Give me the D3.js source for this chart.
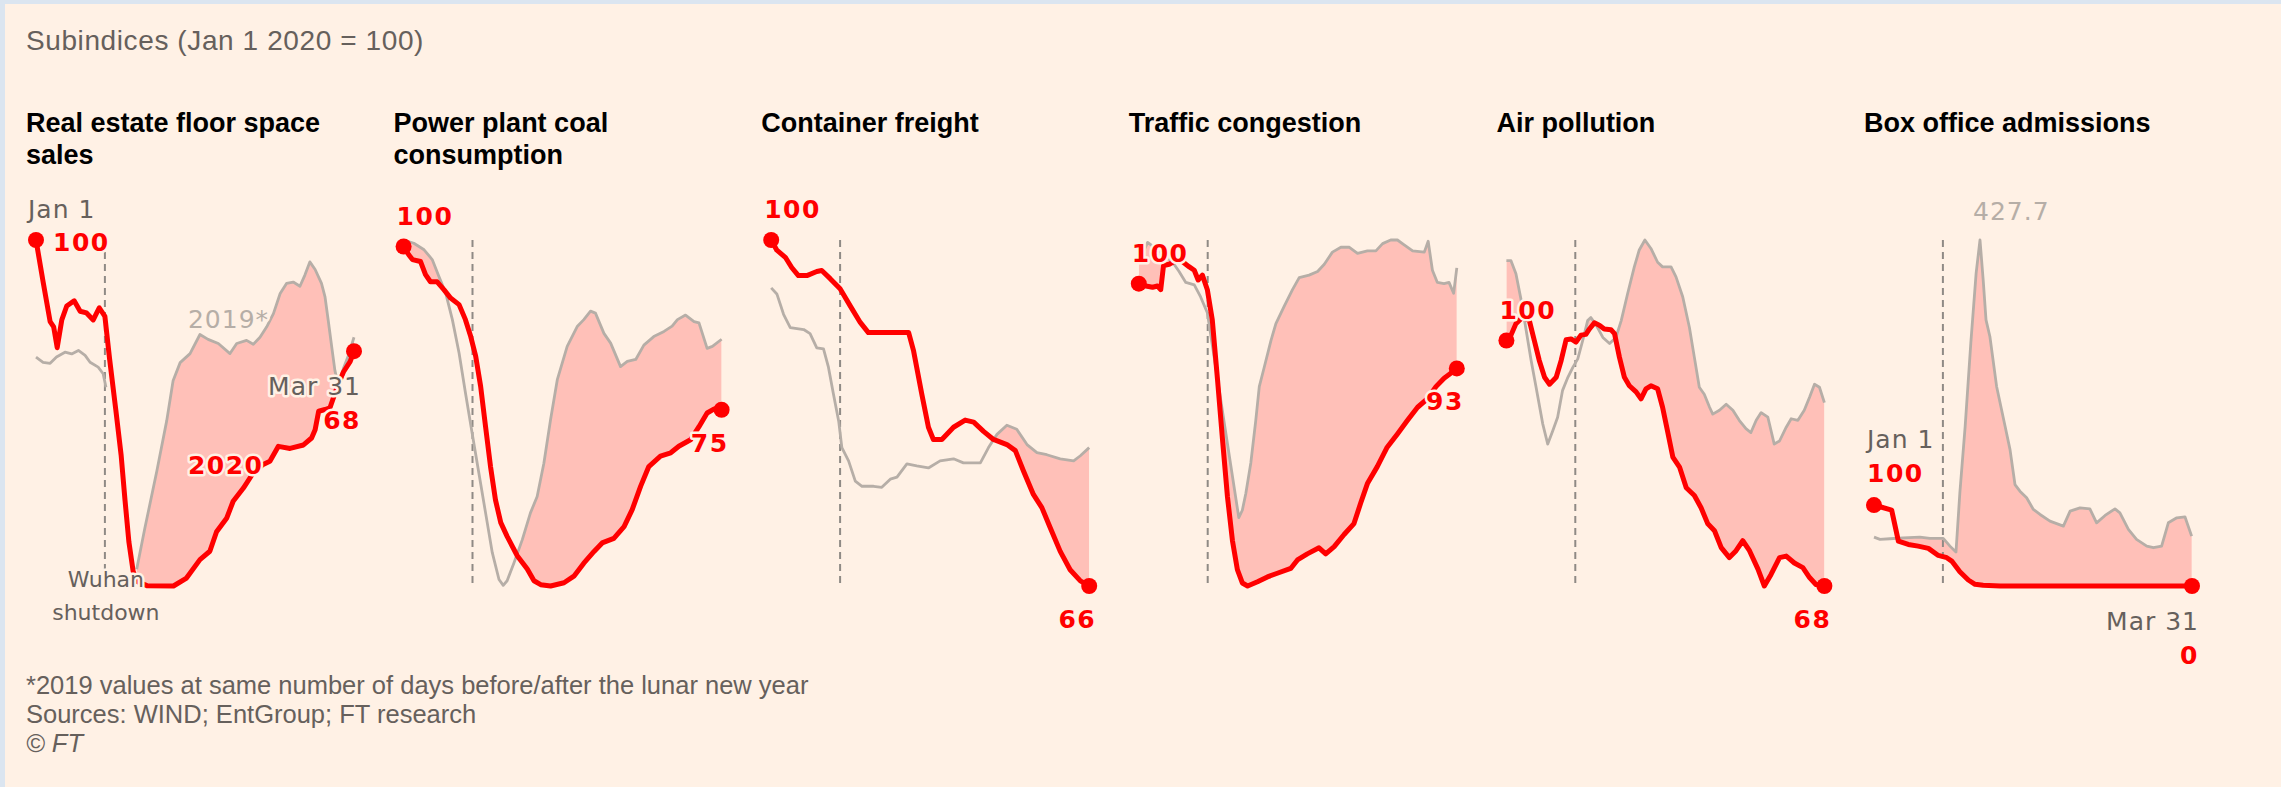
<!DOCTYPE html>
<html>
<head>
<meta charset="utf-8">
<script src="https://cdn.jsdelivr.net/npm/d3@7"></script>
<style>
  body { margin: 0; background: #fff1e5; }
  svg { display: block; }
  .head { font-family: "Liberation Sans", Arial, sans-serif; font-weight: bold; font-size: 27px; fill: #000; }
  .lbl { font-family: "DejaVu Sans", sans-serif; font-size: 25px; letter-spacing: 1px;
         paint-order: stroke; stroke: #fff1e5; stroke-width: 5px; stroke-linejoin: round; }
  .note { font-family: "Liberation Sans", Arial, sans-serif; font-size: 25.5px; fill: #66605c; }
</style>
</head>
<body>
<script>
// panel headings (one entry per line)
var panelTitles = [
    ["Real estate floor space", "sales"],
    ["Power plant coal", "consumption"],
    ["Container freight"],
    ["Traffic congestion"],
    ["Air pollution"],
    ["Box office admissions"]
];

// [day since Jan 1, index value]  -- 2020 series
var realEstate2020 = [[0,100],[2,88],[4,76.5],[5,75],[6,69],[7.3,77],[8.7,81],[10.8,82.5],[12.5,79.5],[14.3,79],[16.2,77],[17.9,80.5],[19.5,78],[20.8,66],[22.6,51],[24.1,38],[25.2,25],[26.3,13],[27.5,4.6],[28.6,1.7],[31.4,0.5],[38.9,0.4],[42.6,2.7],[46.4,8],[49.2,10.4],[51.1,16],[54,20],[55.8,24.8],[58.7,28.6],[61.5,33],[64.3,35.4],[66.2,36.3],[68.6,40.6],[71.9,40],[75.7,41],[78,43],[79,45.4],[80,50.7],[81.8,51.2],[83.2,51.7],[85,57],[87,62],[88.9,65],[90,68]];
var coal2020 = [[0,100],[1.5,98.7],[2.5,98],[4.8,97.7],[6.2,95.7],[7.6,94.6],[9.5,94.6],[11.4,93.4],[13.3,92.1],[15.7,91.1],[17.5,88.8],[19,86.2],[20.4,83.2],[21.8,78.6],[23.2,72.4],[24.6,66.3],[26,61.2],[27.5,57.7],[29.3,55.6],[32.2,52.6],[35,50.6],[36.9,48.8],[38.8,48.2],[41.6,48],[45.4,48.5],[48.2,49.5],[51,51.5],[53.9,53.3],[56.2,54.6],[59.5,55.3],[62.4,57.1],[64.7,59.7],[67.1,63.3],[69.4,66.3],[72.7,67.9],[75.6,68.4],[77.9,69.4],[81.2,70.4],[83.6,72.4],[85.9,74.5],[87.8,75.1],[90,75]];
var container2020 = [[0,100],[1.6,99],[4,98.3],[5.8,97.3],[7.7,96.5],[10.1,96.5],[12.9,96.9],[14.3,97],[16.7,96.2],[19.5,95.2],[22.4,93.5],[25.2,91.9],[27.5,90.9],[33.7,90.9],[38.9,90.9],[40.3,89.1],[42.6,84.9],[44.5,81.6],[45.9,80.4],[48.3,80.4],[51.6,81.6],[54.9,82.3],[57.3,82.1],[60.1,81.2],[62.9,80.4],[66.7,79.9],[69.1,79.3],[71.4,77.3],[74.2,75],[76.6,73.7],[79,71.7],[81.8,69.4],[84.6,67.6],[87.5,66.5],[90,66]];
var traffic2020 = [[0,100],[2,99.8],[3.9,99.7],[5.3,99.8],[6.2,99.5],[7,101.5],[8.6,101.6],[10.5,101.9],[12.4,101.8],[14.2,101.4],[15.7,101.1],[16.8,100.3],[18,100.7],[19.4,99.5],[20.8,97],[22.3,92],[23.7,87.1],[25.1,82.4],[26.5,78.8],[27.9,76.4],[29.3,75.3],[30.8,75.05],[33.6,75.4],[36.4,75.8],[39.2,76.1],[43,76.5],[44.9,77.2],[47.7,77.7],[51,78.2],[52.9,77.7],[55.3,78.3],[58.1,79.3],[60.9,80.2],[62.8,81.9],[64.7,83.5],[67.5,84.9],[70.3,86.5],[73.2,87.6],[76,88.7],[78.9,89.8],[81.7,90.5],[84.1,91.5],[86.4,92.2],[88.3,92.6],[90,93]];
var air2020 = [[0,100],[1.3,100.7],[2.7,102.2],[4.5,103],[6.5,102.6],[7.9,100],[9.3,97.4],[10.8,95.2],[12.2,94.3],[14.1,95.2],[15.5,97.4],[16.9,100.1],[18.3,100.2],[19.7,99.8],[21.1,100.7],[22.5,100.8],[23.5,101.5],[24.9,102.3],[26.3,102],[27.7,101.5],[29.6,101.4],[30.6,100.9],[32,97.8],[33.4,95.2],[34.8,94.1],[36.7,93.3],[38.1,92.4],[39.5,93.7],[40.9,94.1],[42.8,93.7],[44.2,91.3],[45.6,88.2],[47.1,84.8],[49,83.5],[50.9,80.8],[53.2,79.8],[55.1,78.2],[57,76.1],[58.9,75.2],[60.8,73],[63.1,71.7],[65,72.6],[66.9,73.9],[68.8,72.6],[71.2,70.2],[73,68],[74.9,69.5],[77.3,71.7],[79.2,71.9],[81.5,71],[83.9,70.4],[85.8,69.1],[87.6,68.2],[90,68]];
var boxOffice2020 = [[0,100],[1.7,98],[5,93.8],[6.9,55.5],[9.7,51.4],[12.5,49.3],[15.4,46.5],[18.2,37.8],[20.6,35],[22,30.8],[24.3,17.7],[26.7,7.4],[28.6,2.1],[30.9,0.8],[35.7,0],[90,0]];

// 2019 series, same number of days from lunar new year (null = no data)
var realEstate2019 = [[0,66.3],[2,64.8],[4,64.5],[5.8,66.3],[8.2,67.7],[10.1,67.2],[12,68.2],[13.9,66.8],[15.3,64.8],[17.6,63.4],[19,61.5],[19.8,57.6],[24,null],[28.5,5.2],[30.8,17],[34.2,33.5],[37,48],[38.8,59.5],[40.8,64.7],[43.6,67.3],[46.4,72.8],[48.7,71.4],[51.6,70.2],[54.9,67.3],[56.8,70.2],[59.6,71.1],[61.5,70],[63.4,72],[65.3,75],[67.2,78.8],[69.1,84.6],[70.9,87.5],[72.8,87.9],[74.7,86.7],[76.1,89.9],[77.5,93.7],[79,91.5],[80.8,87.5],[81.8,83.6],[82.7,76.9],[83.7,69.2],[84.6,62.4],[85.6,58],[87,63],[88.5,67],[90,72]];
var coal2019 = [[0,101],[2.9,100.5],[5.8,99.5],[8.1,98],[10,95.4],[11.9,92.9],[13.8,88.8],[15.7,83.7],[17.5,77.6],[19.4,71.4],[21.3,65.3],[23.2,59.2],[25.1,53.1],[27,49],[28.2,48.1],[29.3,48.8],[31.2,51.5],[33.6,55.1],[35.9,59.2],[37.8,61.7],[39.7,66.8],[41.6,73.5],[43.5,79.6],[46.3,84.7],[49.2,87.8],[51,88.8],[52.9,90.1],[54.3,89.8],[56.7,86.7],[58.6,85.2],[61.4,81.6],[63.3,82.4],[65.7,82.7],[68,84.9],[70.8,86.2],[73.7,87],[76,87.8],[77.5,88.8],[79.8,89.5],[82.2,88.5],[83.6,88.3],[85.9,84.4],[87.4,84.7],[90,85.8]];
var container2019 = [[0,95.3],[1.6,94.7],[3.5,92.7],[5.4,91.4],[9.2,91.2],[11,90.8],[12.9,89.4],[14.8,89.3],[16.2,87.5],[17.6,84.9],[19.1,82.2],[20,79.6],[21.9,78.3],[23.8,76.3],[25.7,75.8],[29,75.8],[31.3,75.7],[33.7,76.5],[35.6,76.7],[38.4,78],[41.2,77.8],[44.5,77.6],[47.8,78.3],[51.6,78.5],[54.4,78.1],[59.2,78.1],[61.5,79.6],[63.9,80.9],[66.7,81.8],[69.5,81.4],[72.4,79.9],[75.2,79.1],[78,78.9],[81.8,78.5],[85.6,78.3],[87.5,78.8],[90,79.6]];
var traffic2019 = [[0,101.8],[2.5,103.4],[6.2,102.6],[9.5,101.8],[11.4,101],[13.3,100.1],[15.7,99.9],[17.5,98.9],[19.4,97.6],[28.3,80.7],[29.3,81.3],[30.3,82.7],[31.7,85.2],[33.1,88.7],[34.1,91.5],[35.5,93.1],[37.4,95.3],[38.8,96.7],[41.1,98.1],[43.5,99.5],[45.4,100.5],[48.2,100.7],[50.6,101],[52.5,101.6],[54.8,102.6],[57.2,103],[59.6,103],[61.9,102.5],[64.7,102.7],[67.1,102.7],[69,103.3],[71.3,103.6],[73.2,103.6],[75.1,103.2],[77.5,102.7],[80.8,102.6],[81.9,103.5],[83.1,101.1],[84.5,100.1],[86.4,100],[87.8,100.1],[89.1,99.2],[90,101.3]];
var air2019 = [[0,110.4],[1.3,110.4],[2.7,108.7],[4.2,105.2],[5.6,101.3],[7,97.4],[8.4,93.9],[10.3,89.1],[11.7,86.5],[13.1,88.2],[14.5,90],[15.9,93.5],[17.4,95.2],[18.8,96.5],[20.2,97.6],[21.6,100],[23,102.6],[23.9,103],[25.4,102],[27.3,100.4],[29.2,99.6],[31,100.4],[32.5,102.6],[34.3,106.1],[36.2,109.6],[37.6,111.8],[39.2,113.1],[40.9,112],[42.8,110.2],[44.2,109.6],[46.6,109.6],[48,108.3],[49.9,105.7],[51.8,101.7],[53.2,97.8],[54.6,93.9],[56,93],[57.5,91.3],[58.4,90.4],[60.3,90.9],[62.2,91.7],[64.1,90.9],[65.9,89.6],[67.8,88.5],[69.2,88],[70.7,89.6],[72.1,90.6],[74,90],[75.8,86.5],[77.3,86.9],[79.2,88.7],[80.6,89.8],[82.5,89.6],[84.3,90.9],[85.8,92.6],[87.2,94.3],[88.6,93.9],[90,91.9]];
var boxOffice2019 = [[0,60.4],[1.7,57.6],[4.5,58.4],[8.3,59.6],[13,60.4],[15.8,58.8],[19.6,58.8],[21.5,49.3],[23.2,41.9],[24.3,115.1],[25.8,197.4],[27.4,300.2],[28.9,386.5],[30,427.7],[30.9,378.3],[31.7,329],[32.8,308.4],[34.7,246.7],[37.1,197.4],[38.5,168.6],[39.9,125.4],[41.3,117.2],[43.2,109],[45.1,94.6],[47,88.4],[49.8,80.2],[53.6,74],[55.5,92.5],[58.3,96.6],[61.1,95.4],[63,78.1],[65.4,87.2],[68.2,95.4],[69.6,90.5],[72,69.9],[74.3,57.6],[77.2,49.3],[79.1,47.3],[81.4,49.3],[83.3,78.1],[85.7,84.3],[88,85.5],[89.9,61.7]];

var series2020 = [realEstate2020, coal2020, container2020, traffic2020, air2020, boxOffice2020];
var series2019 = [realEstate2019, coal2019, container2019, traffic2019, air2019, boxOffice2019];

var lastDay = 90;          // Mar 31
var shutdownDay = 19.5;    // Wuhan shutdown marker
var footnotes = [
    "*2019 values at same number of days before/after the lunar new year",
    "Sources: WIND; EntGroup; FT research",
    "\u00a9 FT"
];

var width = 2281, height = 787;
var plot = { left: 36, step: 367.6, w: 318, top: 240, bottom: 586 };
var red = "#ff0000", grey = "#b6aea7", dark = "#66605c";

var svg = d3.select("body").append("svg")
    .attr("width", width)
    .attr("height", height);

svg.append("rect").attr("width", width).attr("height", height).attr("fill", "#fff1e5");
// browser frame strips
svg.append("rect").attr("width", width).attr("height", 4).attr("fill", "#dbe5f0");
svg.append("rect").attr("width", 5).attr("height", height).attr("fill", "#dbe5f0");

svg.append("text")
    .attr("x", 26).attr("y", 50)
    .style("font-family", "'Liberation Sans', Arial, sans-serif")
    .style("font-size", "28px")
    .style("letter-spacing", "0.6px")
    .style("fill", dark)
    .text("Subindices (Jan 1 2020 = 100)");

var defs = svg.append("defs");

panelTitles.forEach(function (title, i) {
    var x0 = plot.left + i * plot.step;
    var cur = series2020[i], prev = series2019[i];
    var vals = cur.concat(prev).map(d => d[1]).filter(v => v != null);

    var x = d3.scaleLinear().domain([0, lastDay]).range([x0, x0 + plot.w]);
    var y = d3.scaleLinear().domain(d3.extent(vals)).range([plot.bottom, plot.top]);
    var g = svg.append("g");

    title.forEach(function (t, j) {
        g.append("text").attr("class", "head")
            .attr("x", x0 - 10).attr("y", 132 + j * 32)
            .text(t);
    });

    // shortfall fill: below the 2019 line, above the 2020 line
    defs.append("clipPath").attr("id", "above" + i)
        .append("path")
        .attr("d", d3.area().x(d => x(d[0])).y0(0).y1(d => y(d[1]))(cur));

    g.append("path")
        .attr("clip-path", "url(#above" + i + ")")
        .attr("fill", "#ffc0b8")
        .attr("d", d3.area()
            .defined(d => d[1] != null)
            .x(d => x(d[0])).y0(plot.bottom + 20).y1(d => y(d[1]))(prev));

    g.append("line")
        .attr("x1", x(shutdownDay)).attr("x2", x(shutdownDay))
        .attr("y1", plot.top).attr("y2", plot.bottom + 1)
        .attr("stroke", "#8f8a85")
        .attr("stroke-width", 2)
        .attr("stroke-dasharray", "7,5");

    g.append("path")
        .attr("fill", "none")
        .attr("stroke", grey)
        .attr("stroke-width", 2.8)
        .attr("stroke-linejoin", "round")
        .attr("d", d3.line().defined(d => d[1] != null).x(d => x(d[0])).y(d => y(d[1]))(prev));

    g.append("path")
        .attr("fill", "none")
        .attr("stroke", red)
        .attr("stroke-width", 5)
        .attr("stroke-linejoin", "round")
        .attr("stroke-linecap", "round")
        .attr("d", d3.line().x(d => x(d[0])).y(d => y(d[1]))(cur));

    var first = cur[0], last = cur[cur.length - 1];
    g.selectAll(".dot")
        .data([first, last])
        .enter()
        .append("circle")
        .attr("class", "dot")
        .attr("r", 8)
        .attr("cx", d => x(d[0]))
        .attr("cy", d => y(d[1]))
        .attr("fill", red);

    var fx = x(first[0]), fy = y(first[1]);
    var lx = x(last[0]), ly = y(last[1]);

    function label(px, py, txt, color, bold, anchor) {
        return g.append("text").attr("class", "lbl")
            .attr("x", px).attr("y", py)
            .attr("text-anchor", anchor || "start")
            .style("fill", color)
            .style("font-weight", bold ? "bold" : "normal")
            .style("letter-spacing", bold ? "1.5px" : "1px")
            .text(txt);
    }

    // start labels
    if (i === 0) {
        label(fx - 8, fy - 22, "Jan 1", dark, false);
        label(fx + 17, fy + 11, d3.format("d")(first[1]), red, true);
    } else if (i === 5) {
        label(fx - 7, fy - 57, "Jan 1", dark, false);
        label(fx - 7, fy - 23, d3.format("d")(first[1]), red, true);
    } else {
        label(fx - 7, fy - 22, d3.format("d")(first[1]), red, true);
    }

    // end labels
    if (i === 0 || i === 5) {
        label(lx + 7, ly + 44, "Mar 31", dark, false, "end");
        label(lx + 7, ly + 78, d3.format("d")(last[1]), red, true, "end");
    } else {
        label(lx + 7, ly + 42, d3.format("d")(last[1]), red, true, "end");
    }

    if (i === 0) {
        label(x(43), y(74.6), "2019*", grey, false);
        label(x(43), y(32.7), "2020", red, true);
        [["Wuhan", 1], ["shutdown", 34]].forEach(function (w) {
            label(x(shutdownDay) + 1, plot.bottom + w[1], w[0], dark, false, "middle")
                .style("font-size", "22px").style("letter-spacing", "0px");
        });
    }
    if (i === 5) {
        var peak = d3.greatest(prev, d => d[1]);
        label(x(peak[0]) - 7, y(peak[1]) - 20, d3.format(".1f")(peak[1]), grey, false);
    }
});

svg.selectAll(".note")
    .data(footnotes)
    .enter()
    .append("text")
    .attr("class", "note")
    .attr("x", 26)
    .attr("y", (d, i) => 694 + i * 29)
    .style("font-style", (d, i) => i === 2 ? "italic" : "normal")
    .text(d => d);
</script>
</body>
</html>
